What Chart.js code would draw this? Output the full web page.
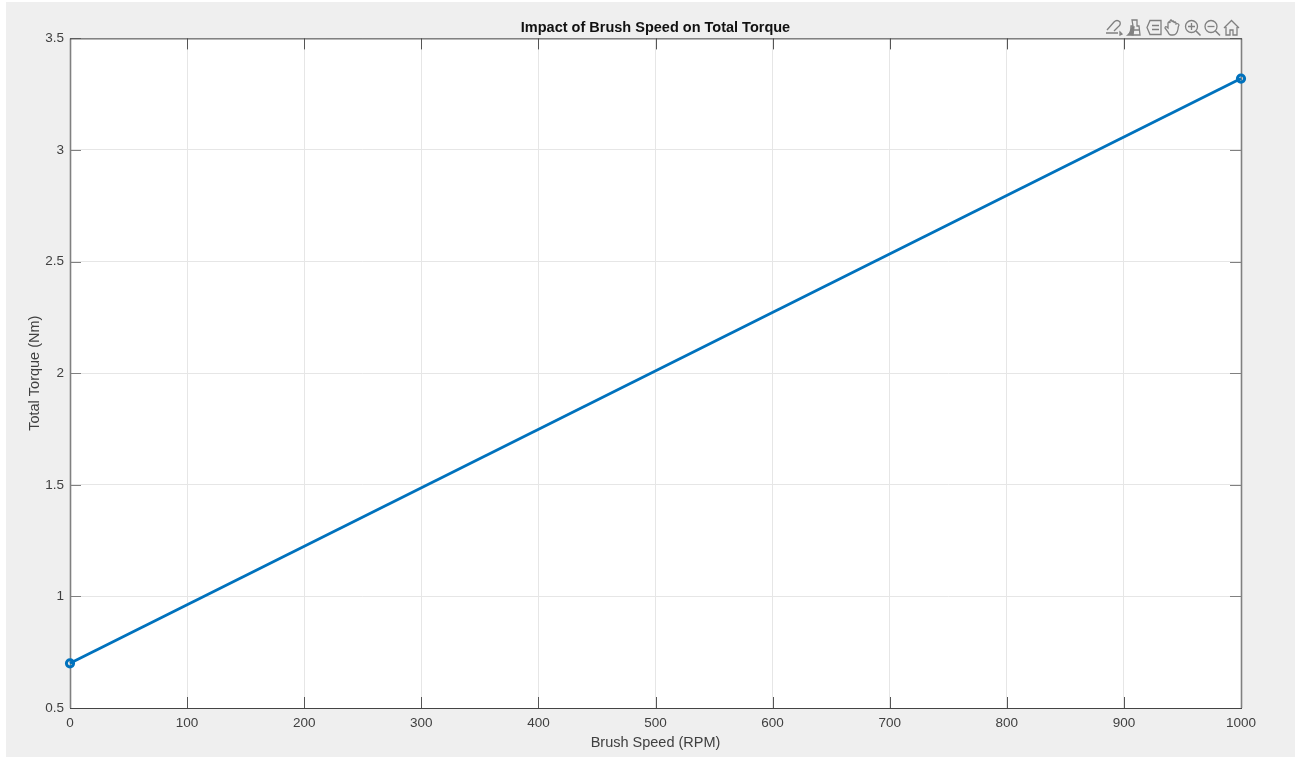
<!DOCTYPE html>
<html>
<head>
<meta charset="utf-8">
<title>Impact of Brush Speed on Total Torque</title>
<script src="https://cdn.jsdelivr.net/npm/chart.js@4"></script>
<style>
  html, body { margin: 0; padding: 0; background: #fff; overflow: hidden; }
  #figure { position: absolute; left: 6px; top: 2px; width: 1289px; height: 755px; background: #efefef; }
  #wrap { position: absolute; left: 0; top: 0; width: 1295px; height: 759px; }
  #toolbar { position: absolute; left: 1104px; top: 18px; }
</style>
</head>
<body>
<div id="figure"></div>
<div id="wrap"><canvas id="torque-chart"></canvas></div>

<!-- toolbar icons -->
<svg id="toolbar" width="140" height="20" viewBox="0 0 140 20" fill="none" stroke="#808080" stroke-width="1.3">
  <path d="M3 12 L10 4 Q13 1 16 4 Q17 7 14 9 L10 13 M2 15 H14 M16 14 l2 2 l-2 1 z"/>
  <path d="M28 2 h5 v6 h2 l1 9 h-12 q3 -2 3 -9 h2 z M27 12 h8" />
  <path d="M25 16 q2 -1 3 -7 l2 0 l-1 8 z" fill="#808080" />
  <path d="M46 2.5 h11 v14 h-11 l-3 -7 z M48 7.5 h7 M48 11.5 h7" />
  <path d="M64 10 v-5 q1 -2 2 0 v-2 q1 -2 2 0 v1 q1 -2 2 0 v1 q1 -2 2 0 v1 q2 -1 3 1 q-1 2 -1 4 q-1 6 -5 6 h-2 q-2 0 -3 -3 l-3 -4 q0 -2 2 -1 z" />
  <path d="M84 8.5 h7 M87.5 5 v7" />
  <circle cx="87.5" cy="8.5" r="6"/>
  <path d="M92 13 l4.5 4.5" stroke-width="1.6"/>
  <circle cx="107" cy="8.5" r="6"/>
  <path d="M103.5 8.5 h7" />
  <path d="M111.5 13 l4.5 4.5" stroke-width="1.6"/>
  <path d="M120 10 l7.5 -7.5 l7.5 7.5 M122 9 v8 h4 v-5 h3 v5 h4 v-8" />
</svg>

<script>
// vlerat e lexuara nga figura
const brushSpeed = [0, 1000];
const totalTorque = [0.70, 3.32];
const xTicks = [0, 100, 200, 300, 400, 500, 600, 700, 800, 900, 1000];
const yTicks = [0.5, 1, 1.5, 2, 2.5, 3, 3.5];

const textColor = '#404040';
const lineColor = '#0072BD';
const gridColor = '#e6e6e6';
const fontFamily = '"Liberation Sans", Arial, sans-serif';

// kornizë dhe viza të vogla nga brenda, si në MATLAB
const boxPlugin = {
  id: 'box',
  beforeDatasetsDraw(chart) {
    const { ctx, chartArea: a, scales } = chart;
    ctx.save();
    ctx.lineWidth = 1;
    ctx.strokeStyle = '#555';
    ctx.beginPath();
    xTicks.forEach(v => {
      const x = Math.round(scales.x.getPixelForValue(v)) + 0.5;
      ctx.moveTo(x, a.bottom); ctx.lineTo(x, a.bottom - 11);
      ctx.moveTo(x, a.top); ctx.lineTo(x, a.top + 11);
    });
    ctx.stroke();
    ctx.strokeStyle = '#808080';
    ctx.beginPath();
    yTicks.forEach(v => {
      const y = Math.round(scales.y.getPixelForValue(v)) + 0.5;
      ctx.moveTo(a.left, y); ctx.lineTo(a.left + 11, y);
      ctx.moveTo(a.right, y); ctx.lineTo(a.right - 11, y);
    });
    ctx.stroke();
    // anët majtas/djathtas janë më të hapura
    ctx.lineWidth = 1.6;
    ctx.strokeStyle = '#808080';
    ctx.beginPath();
    ctx.moveTo(a.left + 0.5, a.top); ctx.lineTo(a.left + 0.5, a.bottom);
    ctx.moveTo(a.right + 0.5, a.top); ctx.lineTo(a.right + 0.5, a.bottom);
    ctx.stroke();
    ctx.lineWidth = 1;
    ctx.strokeStyle = '#444';
    ctx.beginPath();
    ctx.moveTo(a.left, a.top + 0.5); ctx.lineTo(a.right + 1, a.top + 0.5);
    ctx.moveTo(a.left, a.bottom + 0.5); ctx.lineTo(a.right + 1, a.bottom + 0.5);
    ctx.stroke();
    ctx.restore();
  }
};

const plotBackground = {
  id: 'plotBackground',
  beforeDraw(chart) {
    const { ctx, chartArea: a } = chart;
    ctx.fillStyle = '#fff';
    ctx.fillRect(a.left, a.top, a.right - a.left, a.bottom - a.top);
  }
};

new Chart(document.getElementById('torque-chart'), {
  type: 'scatter',
  data: {
    datasets: [{
      data: brushSpeed.map((x, i) => ({ x, y: totalTorque[i] })),
      showLine: true,
      borderColor: lineColor,
      borderWidth: 2.8,
      pointRadius: 3.6,
      pointBorderWidth: 3,
      pointBorderColor: lineColor,
      pointBackgroundColor: 'rgba(255,255,255,0)',
      clip: false
    }]
  },
  options: {
    responsive: true,
    maintainAspectRatio: false,
    animation: false,
    layout: { padding: { left: 0, right: 54, top: 0, bottom: 0 } },
    plugins: {
      legend: { display: false },
      tooltip: { enabled: false },
      title: {
        display: true,
        text: 'Impact of Brush Speed on Total Torque',
        fullSize: false,
        color: '#111',
        font: { family: fontFamily, size: 14.5, weight: 'bold' },
        padding: { top: 19, bottom: 2 }
      }
    },
    scales: {
      x: {
        type: 'linear',
        min: 0,
        max: 1000,
        afterBuildTicks: s => { s.ticks = xTicks.map(value => ({ value })); },
        afterFit: s => { s.height = 51; },
        grid: { color: gridColor, drawTicks: false, lineWidth: 1 },
        border: { display: false },
        ticks: { color: textColor, font: { family: fontFamily, size: 13.5 }, padding: 7, maxRotation: 0, callback: v => String(v) },
        title: { display: true, text: 'Brush Speed (RPM)', color: textColor, font: { family: fontFamily, size: 14.5 }, padding: { top: 3, bottom: 7 } }
      },
      y: {
        min: 0.5,
        max: 3.5,
        afterBuildTicks: s => { s.ticks = yTicks.map(value => ({ value })); },
        afterFit: s => { s.width = 70; },
        grid: { color: gridColor, drawTicks: false, lineWidth: 1 },
        border: { display: false },
        ticks: { color: textColor, font: { family: fontFamily, size: 13.5 }, padding: 6, callback: v => String(v) },
        title: { display: true, text: 'Total Torque (Nm)', color: textColor, font: { family: fontFamily, size: 14.5 }, padding: { top: 26, bottom: 0 } }
      }
    }
  },
  plugins: [plotBackground, boxPlugin]
});
</script>
</body>
</html>
